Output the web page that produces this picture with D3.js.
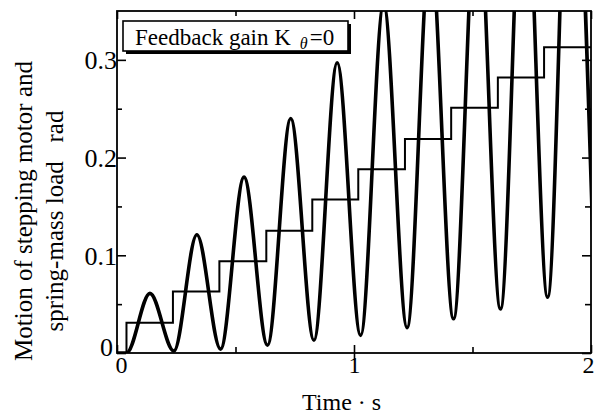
<!DOCTYPE html>
<html>
<head>
<style>
  body { margin: 0; background: #fff; }
  svg text { font-family: "Liberation Serif", "Times New Roman", serif; fill: #000; }
  .axis path { display: none; }
  .axis line { stroke: #000; stroke-width: 1.6px; }
  .axis text { font-size: 26px; }
  .axis.xlab text { font-size: 24px; }
</style>
</head>
<body>
<script src="https://d3js.org/d3.v7.min.js"></script>
<script>
// motor input: one step of 0.0314 rad about every 0.2 s
var stepTimes  = [0.04, 0.236, 0.432, 0.63, 0.824, 1.018, 1.215, 1.41, 1.607, 1.802];
var stepLevels = [0.031, 0.063, 0.094, 0.125, 0.157, 0.188, 0.219, 0.251, 0.282, 0.313];

// spring-mass load, read at its turning points (peaks above 0.35 are estimated)
var loadTimes  = [0, 0.04, 0.139, 0.24, 0.337, 0.437, 0.536, 0.635, 0.733, 0.831, 0.929,
                  1.028, 1.125, 1.224, 1.322, 1.42, 1.52, 1.618, 1.718, 1.817, 1.915, 2.014];
var loadValues = [0, 0, 0.061, 0.002, 0.121, 0.004, 0.18, 0.008, 0.24, 0.013, 0.297,
                  0.018, 0.357, 0.026, 0.417, 0.035, 0.477, 0.045, 0.537, 0.057, 0.597, 0.068];

var xMajor = [0, 1, 2], xMinor = [0.5, 1.5];
var yMajor = [0, 0.1, 0.2, 0.3], yMinor = [0.05, 0.15, 0.25];

var width = 596, height = 416;
var margin = { top: 11, right: 5, bottom: 63, left: 117 };
var w = width - margin.left - margin.right,
    h = height - margin.top - margin.bottom;

var svg = d3.select("body").append("svg")
    .attr("width", width)
    .attr("height", height);

var g = svg.append("g")
    .attr("transform", "translate(" + margin.left + "," + margin.top + ")");

var x = d3.scaleLinear().domain([0, 2]).range([0, w]);
var y = d3.scaleLinear().domain([0, 0.35]).range([h, 0]);

g.append("clipPath").attr("id", "plot")
  .append("rect").attr("width", w).attr("height", h);

// staircase of the motor
var steps = [[0, 0]];
stepTimes.forEach(function (t, i) { steps.push([t, stepLevels[i]]); });
steps.push([2, stepLevels[stepLevels.length - 1]]);

g.append("path")
    .datum(steps)
    .attr("clip-path", "url(#plot)")
    .attr("fill", "none")
    .attr("stroke", "#000")
    .attr("stroke-width", 2)
    .attr("d", d3.line()
        .x(function (d) { return x(d[0]); })
        .y(function (d) { return y(d[1]); })
        .curve(d3.curveStepAfter));

// load oscillation
g.append("path")
    .datum(d3.zip(loadTimes, loadValues))
    .attr("clip-path", "url(#plot)")
    .attr("fill", "none")
    .attr("stroke", "#000")
    .attr("stroke-width", 3.6)
    .attr("d", d3.line()
        .x(function (d) { return x(d[0]); })
        .y(function (d) { return y(d[1]); })
        .curve(d3.curveMonotoneX));

// axes, ticks pointing inward on all four sides
var fmtY = function (d) { return d === 0 ? "0" : d3.format(".1f")(d); };

g.append("g").attr("class", "axis")
    .call(d3.axisLeft(y).tickValues(yMajor).tickSize(-9).tickPadding(0).tickFormat(fmtY))
    .selectAll("text")
    .attr("dy", function (d) { return d === 0 ? "0.1em" : "0.35em"; })
    .attr("dx", function (d) { return d === 0 ? -4 : 0; });
g.append("g").attr("class", "axis")
    .call(d3.axisLeft(y).tickValues(yMinor).tickSize(-5).tickFormat(""));

g.append("g").attr("class", "axis")
    .attr("transform", "translate(" + w + ",0)")
    .call(d3.axisRight(y).tickValues(yMajor).tickSize(-9).tickFormat(""));
g.append("g").attr("class", "axis")
    .attr("transform", "translate(" + w + ",0)")
    .call(d3.axisRight(y).tickValues(yMinor).tickSize(-6).tickFormat(""));

g.append("g").attr("class", "axis xlab")
    .attr("transform", "translate(0," + h + ")")
    .call(d3.axisBottom(x).tickValues(xMajor).tickSize(-8).tickPadding(3).tickFormat(d3.format("d")))
    .selectAll("text").attr("dx", function (d) { return d === 2 ? -3 : d === 0 ? 4 : 0; });
g.append("g").attr("class", "axis")
    .attr("transform", "translate(0," + h + ")")
    .call(d3.axisBottom(x).tickValues(xMajor.slice(1, 2)).tickSize(7).tickFormat(""));
g.append("g").attr("class", "axis")
    .attr("transform", "translate(0," + h + ")")
    .call(d3.axisBottom(x).tickValues(xMinor).tickSize(-6).tickFormat(""));

g.append("g").attr("class", "axis")
    .call(d3.axisTop(x).tickValues(xMajor).tickSize(-8).tickFormat(""));
g.append("g").attr("class", "axis")
    .call(d3.axisTop(x).tickValues(xMinor).tickSize(-5).tickFormat(""));

// frame
g.append("rect")
    .attr("width", w)
    .attr("height", h)
    .attr("fill", "none")
    .attr("stroke", "#000")
    .attr("stroke-width", 1.8);

// legend box with a drop shadow
var lg = g.append("g").attr("transform", "translate(6,10)");
lg.append("rect")
    .attr("x", 3).attr("y", 3)
    .attr("width", 225).attr("height", 30)
    .attr("fill", "#000");
lg.append("rect")
    .attr("width", 225).attr("height", 30)
    .attr("fill", "#fff")
    .attr("stroke", "#000")
    .attr("stroke-width", 1.6);
var lt = lg.append("text")
    .attr("x", 12).attr("y", 24)
    .style("font-size", "23px");
lt.append("tspan").text("Feedback gain K");
lt.append("tspan")
    .attr("dx", 9).attr("dy", 4)
    .style("font-size", "16px")
    .style("font-style", "italic")
    .text("\u03b8");
lt.append("tspan")
    .attr("dx", 2).attr("dy", -4)
    .text("=0");

// axis titles
svg.append("text")
    .attr("x", 302).attr("y", 410)
    .style("font-size", "24px")
    .style("white-space", "pre")
    .text("Time \u00b7 s");

svg.append("text")
    .attr("transform", "translate(32,211) rotate(-90)")
    .attr("text-anchor", "middle")
    .style("font-size", "25px")
    .text("Motion of stepping motor and");
svg.append("text")
    .attr("transform", "translate(63,221) rotate(-90)")
    .attr("text-anchor", "middle")
    .style("font-size", "25px")
    .style("white-space", "pre")
    .text("spring-mass load   rad");
</script>
</body>
</html>
